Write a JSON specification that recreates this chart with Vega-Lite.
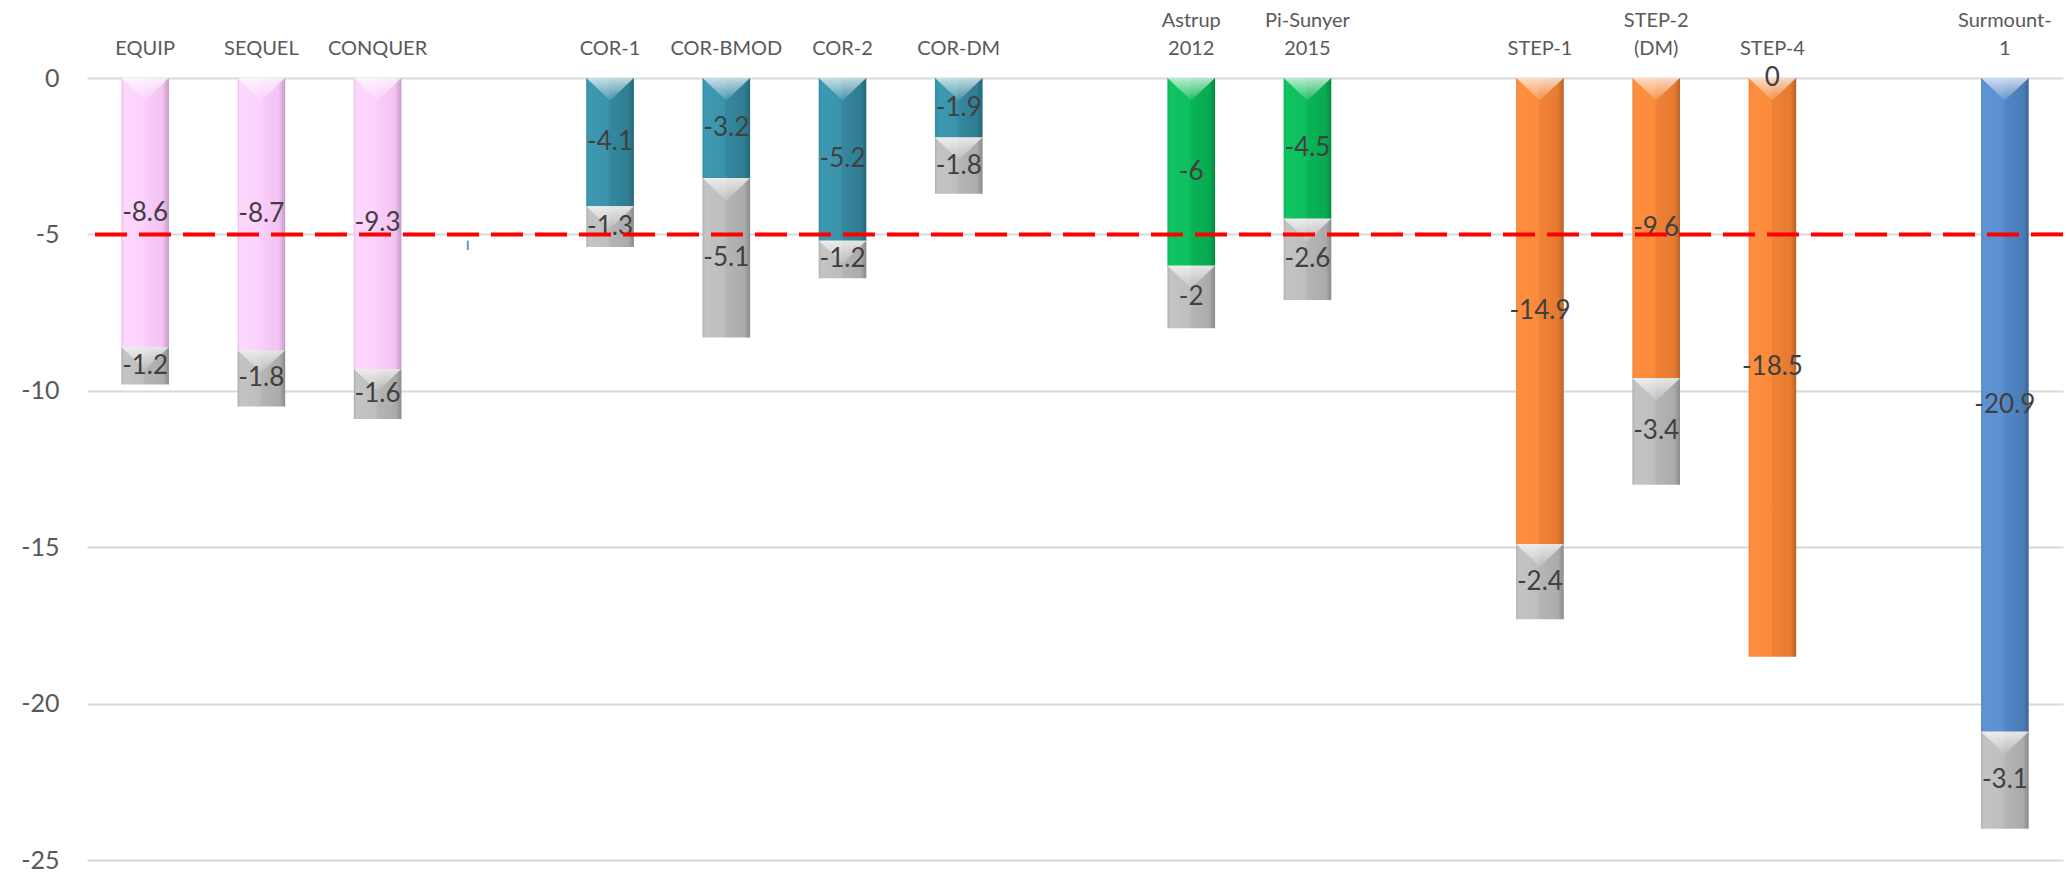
{
  "$schema": "https://vega.github.io/schema/vega-lite/v6.json",
  "autosize": {"type": "none"},
  "width": 1976,
  "height": 782,
  "padding": {"left": 87, "top": 78, "right": 3, "bottom": 15},
  "background": "white",
  "config": {"view": {"stroke": null}, "font": "Lato"},
  "datasets": {
    "results": [
      {"study": "EQUIP", "part": 1, "grp": "pink", "value": -8.6},
      {"study": "EQUIP", "part": 2, "grp": "gray", "value": -1.2},
      {"study": "SEQUEL", "part": 1, "grp": "pink", "value": -8.7},
      {"study": "SEQUEL", "part": 2, "grp": "gray", "value": -1.8},
      {"study": "CONQUER", "part": 1, "grp": "pink", "value": -9.3},
      {"study": "CONQUER", "part": 2, "grp": "gray", "value": -1.6},
      {"study": "COR-1", "part": 1, "grp": "teal", "value": -4.1},
      {"study": "COR-1", "part": 2, "grp": "gray", "value": -1.3},
      {"study": "COR-BMOD", "part": 1, "grp": "teal", "value": -3.2},
      {"study": "COR-BMOD", "part": 2, "grp": "gray", "value": -5.1},
      {"study": "COR-2", "part": 1, "grp": "teal", "value": -5.2},
      {"study": "COR-2", "part": 2, "grp": "gray", "value": -1.2},
      {"study": "COR-DM", "part": 1, "grp": "teal", "value": -1.9},
      {"study": "COR-DM", "part": 2, "grp": "gray", "value": -1.8},
      {"study": "Astrup|2012", "part": 1, "grp": "green", "value": -6},
      {"study": "Astrup|2012", "part": 2, "grp": "gray", "value": -2},
      {"study": "Pi-Sunyer|2015", "part": 1, "grp": "green", "value": -4.5},
      {"study": "Pi-Sunyer|2015", "part": 2, "grp": "gray", "value": -2.6},
      {"study": "STEP-1", "part": 1, "grp": "orange", "value": -14.9},
      {"study": "STEP-1", "part": 2, "grp": "gray", "value": -2.4},
      {"study": "STEP-2|(DM)", "part": 1, "grp": "orange", "value": -9.6},
      {"study": "STEP-2|(DM)", "part": 2, "grp": "gray", "value": -3.4},
      {"study": "STEP-4", "part": 1, "grp": "orange", "value": -18.5},
      {"study": "STEP-4", "part": 2, "grp": "gray", "value": 0},
      {"study": "Surmount-|1", "part": 1, "grp": "blue", "value": -20.9},
      {"study": "Surmount-|1", "part": 2, "grp": "gray", "value": -3.1}
    ],
    "stray": [
      {"study": "_1", "lo": -5.2, "hi": -5.5}
    ]
  },
  "data": {"name": "results"},
  "transform": [
    {"stack": "value", "groupby": ["study"], "sort": [{"field": "part", "order": "ascending"}], "as": ["v0", "v1"]},
    {"calculate": "(datum.v0 + datum.v1) / 2", "as": "mid"}
  ],
  "layer": [
    {
      "transform": [{"filter": "datum.grp === 'pink'"}],
      "mark": {"type": "bar", "fill": {"gradient": "linear", "x1": 0, "y1": 0, "x2": 1, "y2": 0, "stops": [
        {"offset": 0, "color": "#eec0ed"}, {"offset": 0.06, "color": "#fdd7fd"}, {"offset": 0.46, "color": "#fcd2fc"},
        {"offset": 0.5, "color": "#facdfa"}, {"offset": 0.86, "color": "#f4c3f3"}, {"offset": 1, "color": "#c79ac6"}]}},
      "encoding": {
        "x": {"field": "study", "type": "nominal", "sort": null,
          "scale": {"domain": ["EQUIP", "SEQUEL", "CONQUER", "_1", "COR-1", "COR-BMOD", "COR-2", "COR-DM", "_2", "Astrup|2012", "Pi-Sunyer|2015", "_3", "STEP-1", "STEP-2|(DM)", "STEP-4", "_4", "Surmount-|1"], "paddingInner": 0.59, "paddingOuter": 0.295},
          "axis": {"orient": "top", "title": null, "domain": false, "ticks": false, "grid": false, "labelAngle": 0,
            "labelExpr": "indexof(datum.value, '_') === 0 ? '' : (indexof(datum.value, '|') < 0 ? ['', datum.value] : split(datum.value, '|'))",
            "labelFont": "Lato", "labelFontSize": 20, "labelLineHeight": 28, "labelColor": "#595959",
            "labelPadding": 48, "labelOverlap": false, "labelLimit": 0}},
        "y": {"field": "v0", "type": "quantitative",
          "scale": {"domain": [-25, 0], "nice": false, "zero": false},
          "axis": {"title": null, "values": [-25, -20, -15, -10, -5, 0], "grid": true, "gridColor": "#d9d9d9", "gridWidth": 2,
            "labelExpr": "toString(datum.value)",
            "domain": false, "ticks": false, "labelFont": "Lato", "labelFontSize": 25, "labelColor": "#595959", "labelPadding": 28}},
        "y2": {"field": "v1"}
      }
    },
    {
      "transform": [{"filter": "datum.grp === 'teal'"}],
      "mark": {"type": "bar", "fill": {"gradient": "linear", "x1": 0, "y1": 0, "x2": 1, "y2": 0, "stops": [
        {"offset": 0, "color": "#338aa1"}, {"offset": 0.06, "color": "#3d99b2"}, {"offset": 0.46, "color": "#3a93ab"},
        {"offset": 0.5, "color": "#34889f"}, {"offset": 0.88, "color": "#2f7d92"}, {"offset": 1, "color": "#25687a"}]}},
      "encoding": {
        "x": {"field": "study", "type": "nominal", "sort": null},
        "y": {"field": "v0", "type": "quantitative"},
        "y2": {"field": "v1"}
      }
    },
    {
      "transform": [{"filter": "datum.grp === 'green'"}],
      "mark": {"type": "bar", "fill": {"gradient": "linear", "x1": 0, "y1": 0, "x2": 1, "y2": 0, "stops": [
        {"offset": 0, "color": "#0bb556"}, {"offset": 0.06, "color": "#0fc461"}, {"offset": 0.46, "color": "#0cc05e"},
        {"offset": 0.5, "color": "#09b356"}, {"offset": 0.88, "color": "#07aa50"}, {"offset": 1, "color": "#058a40"}]}},
      "encoding": {
        "x": {"field": "study", "type": "nominal", "sort": null},
        "y": {"field": "v0", "type": "quantitative"},
        "y2": {"field": "v1"}
      }
    },
    {
      "transform": [{"filter": "datum.grp === 'orange'"}],
      "mark": {"type": "bar", "fill": {"gradient": "linear", "x1": 0, "y1": 0, "x2": 1, "y2": 0, "stops": [
        {"offset": 0, "color": "#ee863c"}, {"offset": 0.06, "color": "#fe8e3f"}, {"offset": 0.46, "color": "#fc8b3c"},
        {"offset": 0.5, "color": "#f08236"}, {"offset": 0.88, "color": "#e57a31"}, {"offset": 1, "color": "#b8632a"}]}},
      "encoding": {
        "x": {"field": "study", "type": "nominal", "sort": null},
        "y": {"field": "v0", "type": "quantitative"},
        "y2": {"field": "v1"}
      }
    },
    {
      "transform": [{"filter": "datum.grp === 'blue'"}],
      "mark": {"type": "bar", "fill": {"gradient": "linear", "x1": 0, "y1": 0, "x2": 1, "y2": 0, "stops": [
        {"offset": 0, "color": "#5588c6"}, {"offset": 0.06, "color": "#5d93d4"}, {"offset": 0.46, "color": "#5b8fd0"},
        {"offset": 0.5, "color": "#5286c5"}, {"offset": 0.88, "color": "#4b7cb8"}, {"offset": 1, "color": "#3d6594"}]}},
      "encoding": {
        "x": {"field": "study", "type": "nominal", "sort": null},
        "y": {"field": "v0", "type": "quantitative"},
        "y2": {"field": "v1"}
      }
    },
    {
      "transform": [{"filter": "datum.grp === 'gray' && datum.value !== 0"}],
      "mark": {"type": "bar", "fill": {"gradient": "linear", "x1": 0, "y1": 0, "x2": 1, "y2": 0, "stops": [
        {"offset": 0, "color": "#b0b0b0"}, {"offset": 0.06, "color": "#c4c4c4"}, {"offset": 0.46, "color": "#bebebe"},
        {"offset": 0.5, "color": "#b5b5b5"}, {"offset": 0.88, "color": "#ababab"}, {"offset": 1, "color": "#8a8a8a"}]}},
      "encoding": {
        "x": {"field": "study", "type": "nominal", "sort": null},
        "y": {"field": "v0", "type": "quantitative"},
        "y2": {"field": "v1"}
      }
    },
    {
      "transform": [{"filter": "datum.value !== 0"}],
      "mark": {"type": "point", "filled": true, "strokeWidth": 0, "opacity": 1,
        "shape": "M-1,0L1,0L0,0.95Z", "size": 2260,
        "fill": {"gradient": "linear", "x1": 0, "y1": 0, "x2": 0, "y2": 1, "stops": [
          {"offset": 0, "color": "rgba(255,255,255,0.7)"}, {"offset": 1, "color": "rgba(255,255,255,0.1)"}]}},
      "encoding": {
        "x": {"field": "study", "type": "nominal", "sort": null},
        "y": {"field": "v0", "type": "quantitative"}
      }
    },
    {
      "mark": {"type": "text", "font": "Lato", "fontSize": 26, "color": "#404040", "align": "center", "baseline": "middle"},
      "encoding": {
        "x": {"field": "study", "type": "nominal", "sort": null},
        "y": {"field": "mid", "type": "quantitative"},
        "text": {"field": "value", "type": "nominal"}
      }
    },
    {
      "data": {"name": "stray"},
      "transform": [],
      "mark": {"type": "rule", "color": "#5b9bd5", "strokeWidth": 2, "xOffset": -26},
      "encoding": {
        "x": {"field": "study", "type": "nominal", "sort": null},
        "y": {"field": "lo", "type": "quantitative"},
        "y2": {"field": "hi"}
      }
    },
    {
      "data": {"values": [{}]},
      "mark": {"type": "rule", "color": "#ff0000", "strokeWidth": 4, "strokeDash": [32, 12]},
      "encoding": {
        "y": {"datum": -5, "type": "quantitative"}
      }
    }
  ]
}
